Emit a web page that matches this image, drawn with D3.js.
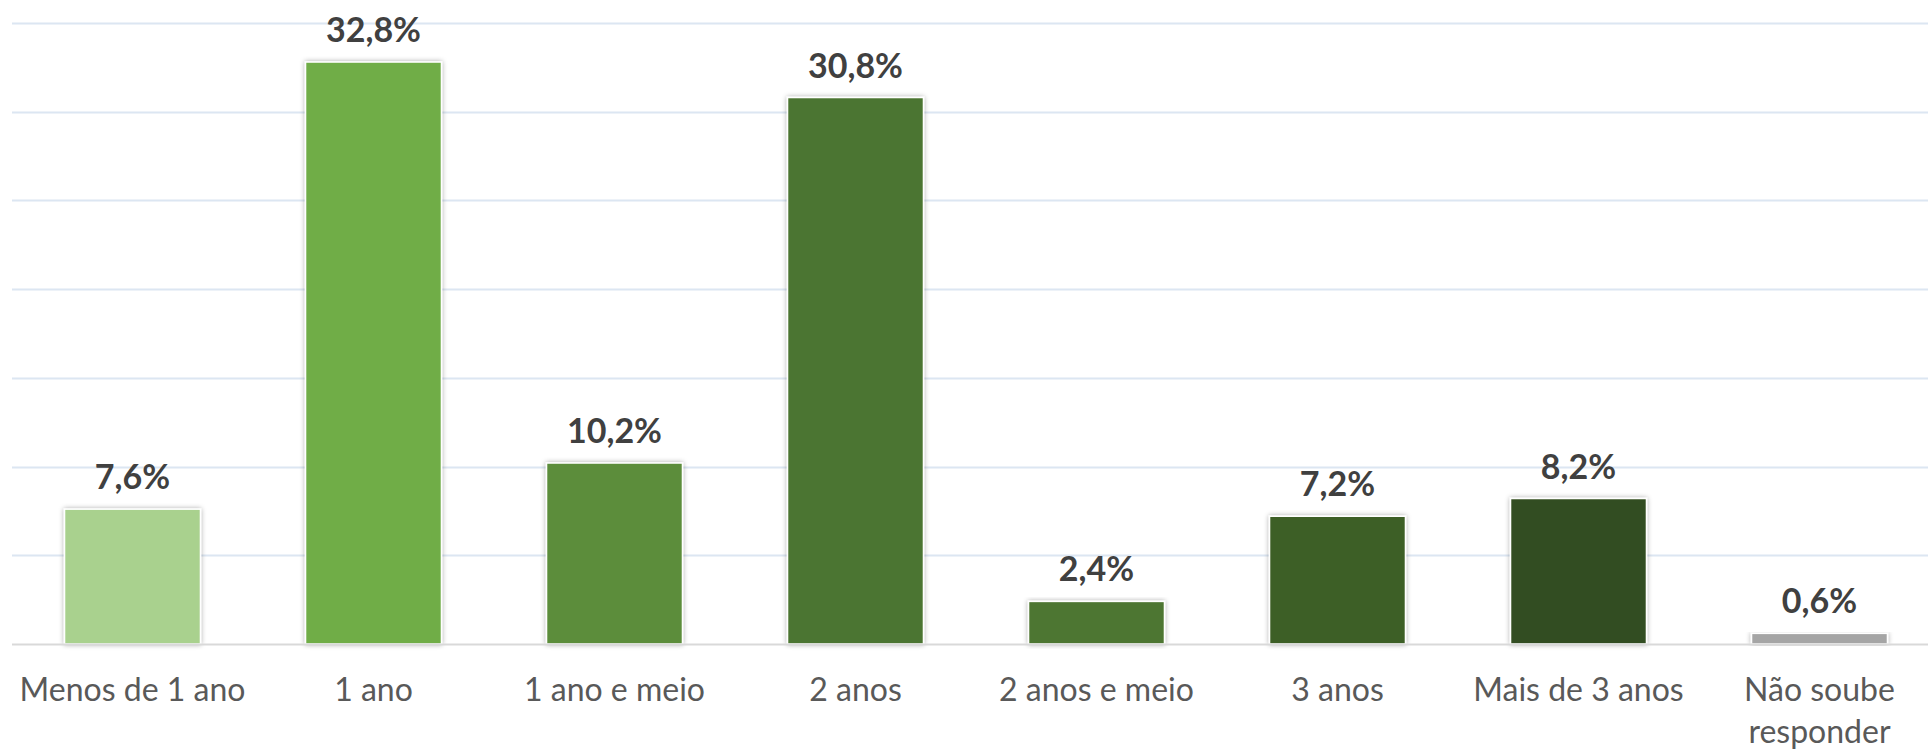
<!DOCTYPE html>
<html>
<head>
<meta charset="utf-8">
<script src="https://cdn.jsdelivr.net/npm/d3@7"></script>
<style>
  html, body { margin: 0; padding: 0; background: #ffffff; }
  svg { display: block; }
  .value-label { font-family: Lato, "Open Sans", sans-serif; font-weight: bold; fill: #404040; }
  .cat-label { font-family: Lato, "Open Sans", sans-serif; fill: #595959; }
</style>
</head>
<body>
<div id="chart"></div>
<script>
// data
var categories = ["Menos de 1 ano", "1 ano", "1 ano e meio", "2 anos",
                  "2 anos e meio", "3 anos", "Mais de 3 anos", "Não soube responder"];
var values = [7.6, 32.8, 10.2, 30.8, 2.4, 7.2, 8.2, 0.6];
var barColors = ["#A9D18E", "#70AD47", "#5C8D3A", "#4C7530",
                 "#4D7630", "#3D5E27", "#334D20", "#A5A5A5"];
var yTicks = [0, 5, 10, 15, 20, 25, 30, 35];

var chart = {
    svgWidth: 1928,
    svgHeight: 749,
    margin: {"top": 23, "bottom": 105, "left": 12, "right": -12},
};

chart.svg = d3.select("#chart").append("svg")
    .attr("width", chart.svgWidth)
    .attr("height", chart.svgHeight);

// soft shadow under the bars
var defs = chart.svg.append("defs");
var filt = defs.append("filter")
    .attr("id", "shadow")
    .attr("x", "-10%").attr("y", "-10%")
    .attr("width", "120%").attr("height", "120%");
filt.append("feDropShadow")
    .attr("dx", 0).attr("dy", 0)
    .attr("stdDeviation", 2.5)
    .attr("flood-color", "#000")
    .attr("flood-opacity", 0.35);

chart.xScale = d3.scaleBand()
    .domain(categories)
    .range([chart.margin.left, chart.svgWidth - chart.margin.right])
    .paddingInner(0.436)
    .paddingOuter(0.218);

chart.yScale = d3.scaleLinear()
    .domain([0, 35])
    .range([chart.svgHeight - chart.margin.bottom, chart.margin.top]);

var xScale = chart.xScale;
var yScale = chart.yScale;

// gridlines
chart.svg.append("g")
    .attr("class", "grid")
    .selectAll("line")
    .data(yTicks.filter(d => d > 0))
    .enter().append("line")
    .attr("x1", chart.margin.left)
    .attr("x2", chart.svgWidth)
    .attr("y1", d => Math.round(yScale(d)) + 0.5)
    .attr("y2", d => Math.round(yScale(d)) + 0.5)
    .attr("stroke", "#DCE6F2")
    .attr("stroke-width", 2);

// bars
chart.svg.append("g")
    .selectAll("rect")
    .data(values)
    .enter().append("rect")
    .attr("x", (d, i) => xScale(categories[i]))
    .attr("y", d => yScale(d))
    .attr("width", xScale.bandwidth())
    .attr("height", d => yScale(0) - yScale(d))
    .attr("fill", (d, i) => barColors[i])
    .attr("stroke", "#ffffff")
    .attr("stroke-width", 1.5)
    .attr("filter", "url(#shadow)");

// baseline
chart.svg.append("line")
    .attr("x1", chart.margin.left)
    .attr("x2", chart.svgWidth)
    .attr("y1", yScale(0) + 0.5)
    .attr("y2", yScale(0) + 0.5)
    .attr("stroke", "#D9D9D9")
    .attr("stroke-width", 2);

// value labels
var fmt = d => d.toFixed(1).replace(".", ",") + "%";
chart.svg.append("g")
    .selectAll("text")
    .data(values)
    .enter().append("text")
    .attr("class", "value-label")
    .attr("x", (d, i) => xScale(categories[i]) + xScale.bandwidth() / 2)
    .attr("y", d => yScale(d) - 20)
    .attr("text-anchor", "middle")
    .attr("font-size", 34)
    .text(fmt);

// category labels, wrapped where the original wraps
var catLines = categories.map(c => c === "Não soube responder" ? ["Não soube", "responder"] : [c]);
var catText = chart.svg.append("g")
    .selectAll("text")
    .data(categories)
    .enter().append("text")
    .attr("class", "cat-label")
    .attr("text-anchor", "middle")
    .attr("font-size", 32);

catText.each(function(d, i) {
    var cx = xScale(d) + xScale.bandwidth() / 2;
    catLines[i].forEach(function(line, j) {
        d3.select(this).append("tspan")
            .attr("x", cx)
            .attr("y", yScale(0) + 57 + j * 42)
            .text(line);
    }, this);
});
</script>
</body>
</html>
